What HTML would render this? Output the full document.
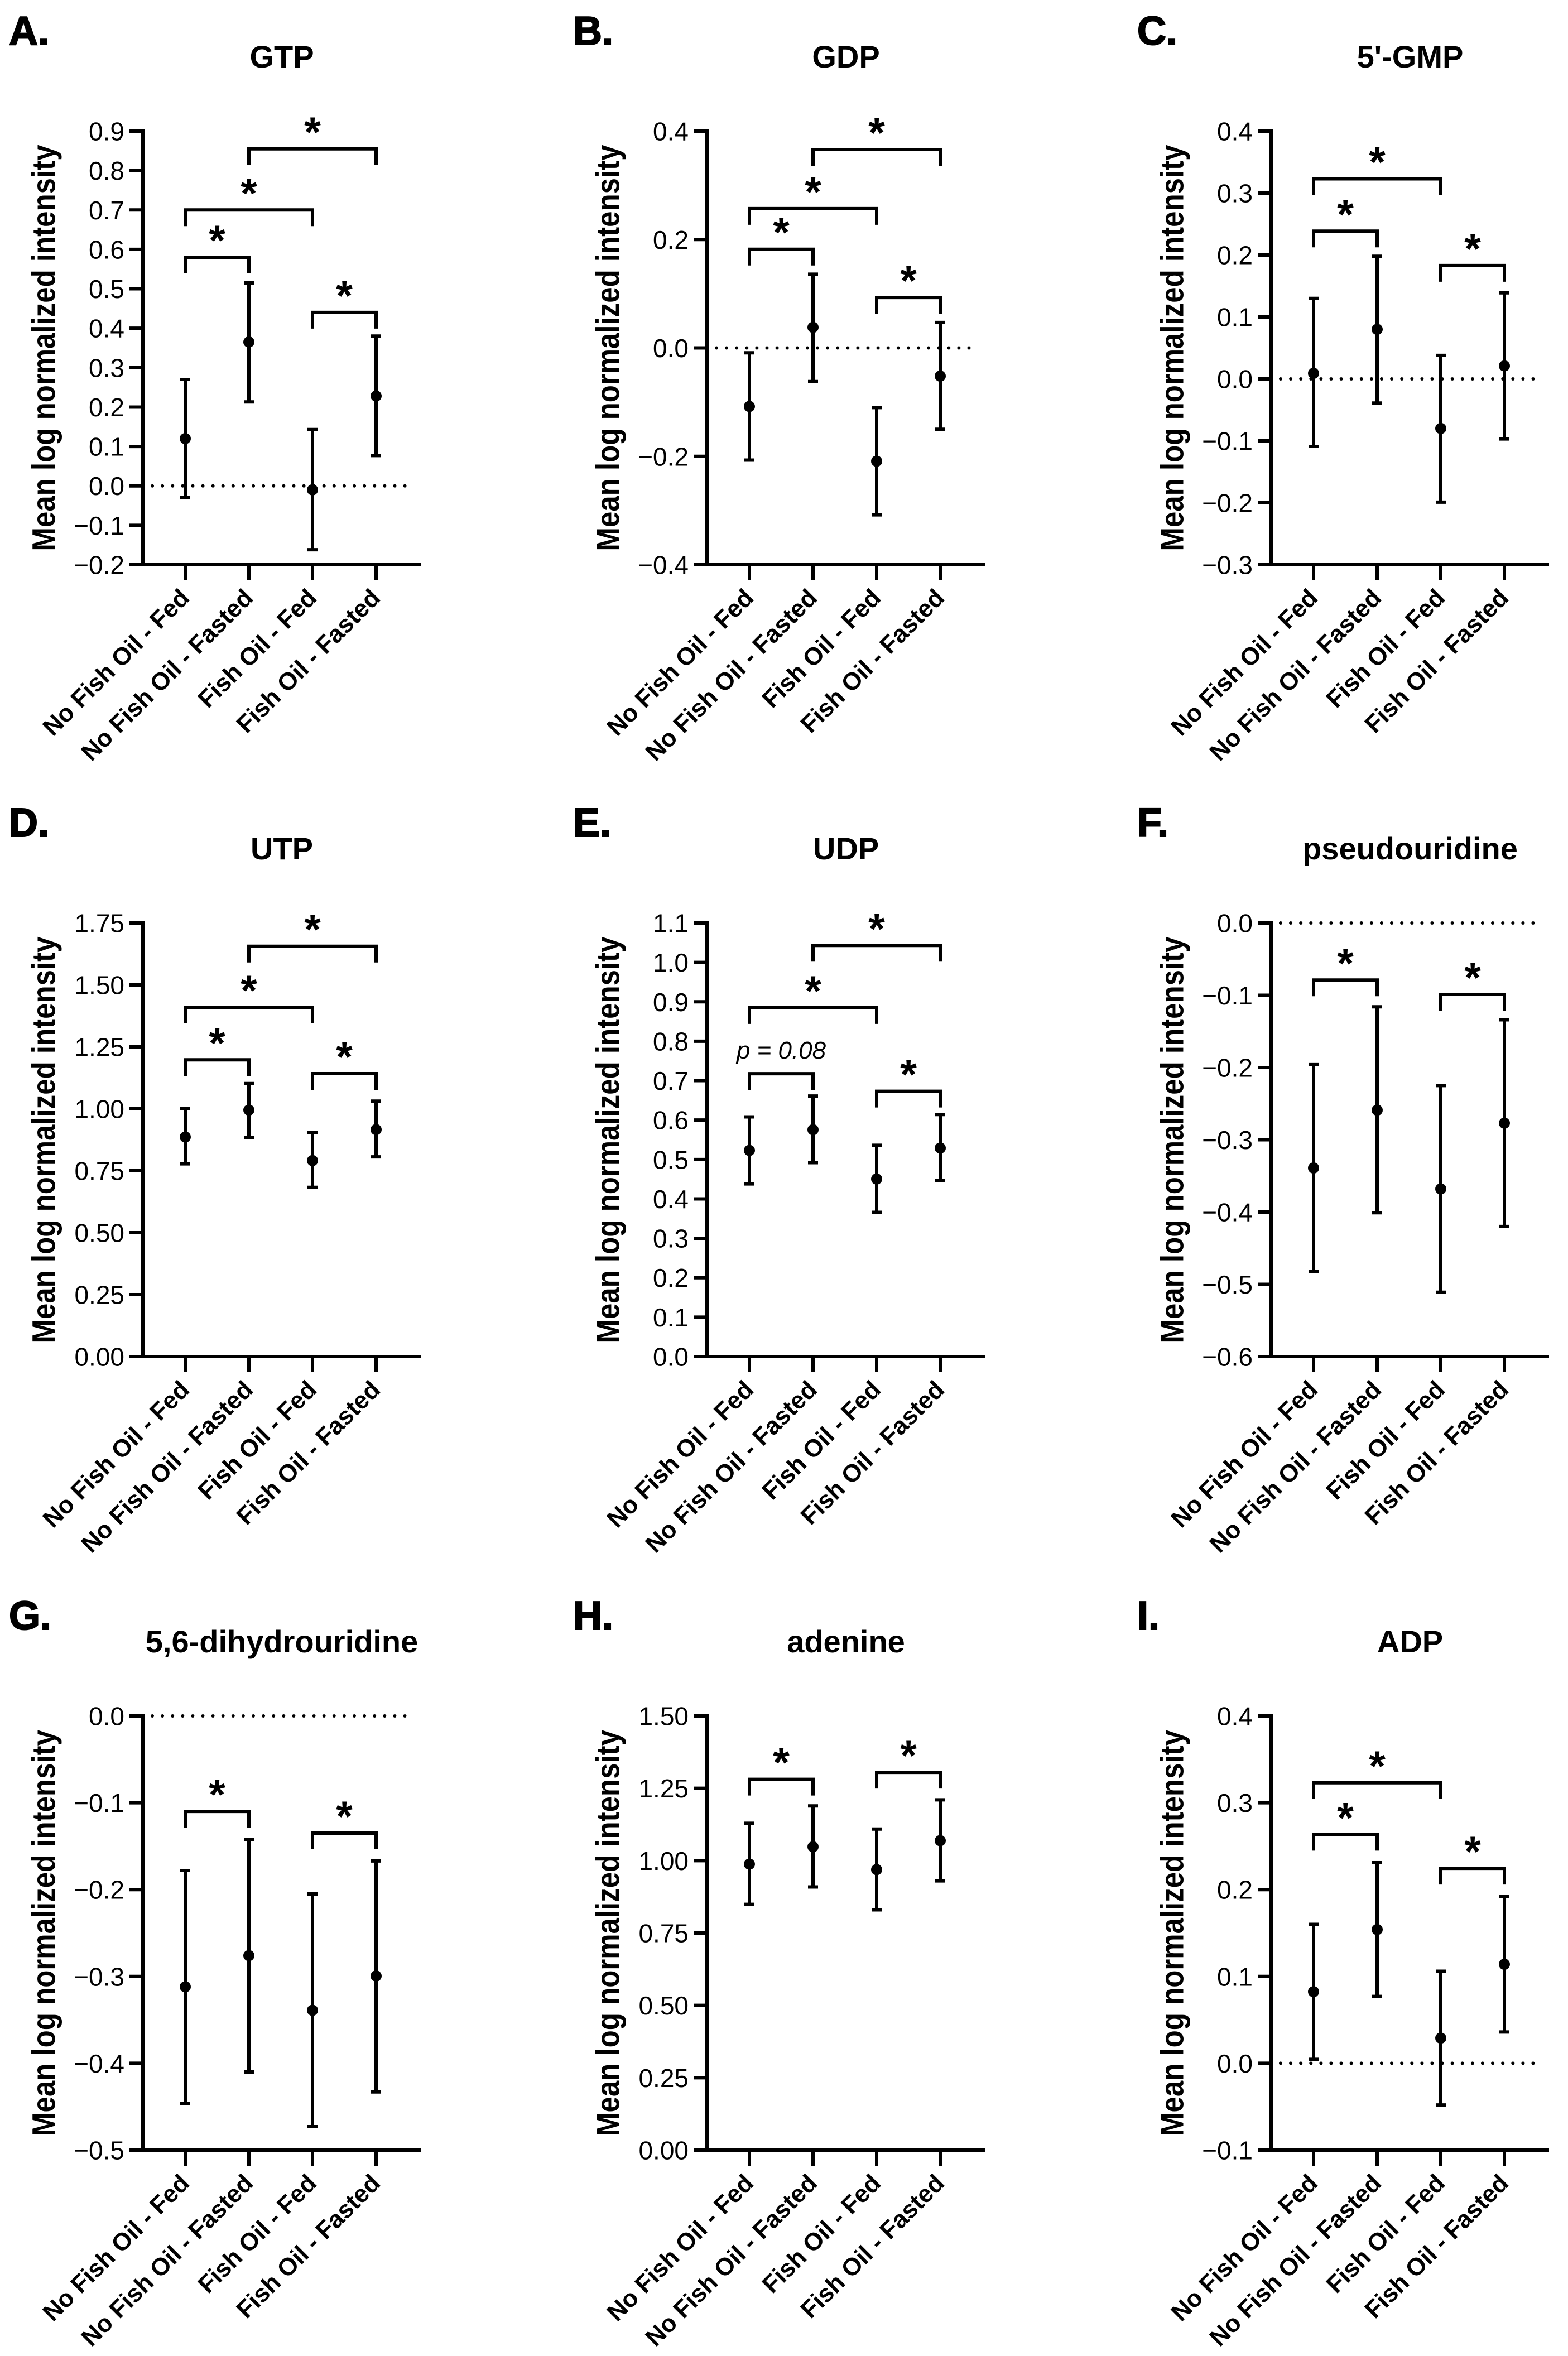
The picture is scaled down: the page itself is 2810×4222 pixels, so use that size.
<!DOCTYPE html>
<html><head><meta charset="utf-8"><style>
html,body{margin:0;padding:0;background:#fff;}
svg{display:block;font-family:"Liberation Sans",Arial,sans-serif;}
</style></head>
<body>
<svg id="fig" xmlns="http://www.w3.org/2000/svg" width="2810" height="4222" viewBox="0 0 2810 4222"></svg>
<script>
// ---- shared categories ----
const categories = ["No Fish Oil - Fed","No Fish Oil - Fasted","Fish Oil - Fed","Fish Oil - Fasted"];

// ---- A. GTP ----
const gtpTicks = [0.9,0.8,0.7,0.6,0.5,0.4,0.3,0.2,0.1,0.0,-0.1,-0.2];
const gtpMeans = [0.12,0.365,-0.01,0.228];
const gtpUpper = [0.27,0.515,0.143,0.38];
const gtpLower = [-0.03,0.213,-0.162,0.077];
const gtpBrackets = [[0,1,0.58],[0,2,0.70],[1,3,0.855],[2,3,0.44]];
const gtpBracketLabels = ["*","*","*","*"];

// ---- B. GDP ----
const gdpTicks = [0.4,0.2,0.0,-0.2,-0.4];
const gdpMeans = [-0.108,0.038,-0.209,-0.052];
const gdpUpper = [-0.009,0.136,-0.11,0.047];
const gdpLower = [-0.207,-0.062,-0.308,-0.15];
const gdpBrackets = [[0,1,0.182],[0,2,0.257],[1,3,0.366],[2,3,0.093]];
const gdpBracketLabels = ["*","*","*","*"];

// ---- C. 5'-GMP ----
const gmpTicks = [0.4,0.3,0.2,0.1,0.0,-0.1,-0.2,-0.3];
const gmpMeans = [0.009,0.08,-0.08,0.021];
const gmpUpper = [0.13,0.198,0.038,0.139];
const gmpLower = [-0.109,-0.039,-0.199,-0.097];
const gmpBrackets = [[0,1,0.2385],[0,2,0.323],[2,3,0.183]];
const gmpBracketLabels = ["*","*","*"];

// ---- D. UTP ----
const utpTicks = [1.75,1.5,1.25,1.0,0.75,0.5,0.25,0.0];
const utpMeans = [0.886,0.995,0.791,0.916];
const utpUpper = [1.0,1.102,0.905,1.031];
const utpLower = [0.778,0.883,0.683,0.806];
const utpBrackets = [[0,1,1.1975],[0,2,1.41],[1,3,1.656],[2,3,1.142]];
const utpBracketLabels = ["*","*","*","*"];

// ---- E. UDP ----
const udpTicks = [1.1,1.0,0.9,0.8,0.7,0.6,0.5,0.4,0.3,0.2,0.1,0.0];
const udpMeans = [0.523,0.5755,0.4505,0.529];
const udpUpper = [0.608,0.661,0.536,0.614];
const udpLower = [0.438,0.492,0.366,0.446];
const udpBrackets = [[0,1,0.7175],[0,2,0.885],[1,3,1.043],[2,3,0.673]];
const udpBracketLabels = ["p = 0.08","*","*","*"];

// ---- F. pseudouridine ----
const psiTicks = [0.0,-0.1,-0.2,-0.3,-0.4,-0.5,-0.6];
const psiMeans = [-0.339,-0.259,-0.368,-0.277];
const psiUpper = [-0.196,-0.116,-0.225,-0.134];
const psiLower = [-0.482,-0.401,-0.511,-0.42];
const psiBrackets = [[0,1,-0.079],[2,3,-0.0988]];
const psiBracketLabels = ["*","*"];

// ---- G. 5,6-dihydrouridine ----
const dhuTicks = [0.0,-0.1,-0.2,-0.3,-0.4,-0.5];
const dhuMeans = [-0.312,-0.276,-0.339,-0.2995];
const dhuUpper = [-0.178,-0.142,-0.205,-0.167];
const dhuLower = [-0.446,-0.41,-0.473,-0.433];
const dhuBrackets = [[0,1,-0.110],[2,3,-0.135]];
const dhuBracketLabels = ["*","*"];

// ---- H. adenine ----
const adeTicks = [1.5,1.25,1.0,0.75,0.5,0.25,0.0];
const adeMeans = [0.988,1.048,0.969,1.069];
const adeUpper = [1.129,1.189,1.109,1.21];
const adeLower = [0.849,0.909,0.83,0.93];
const adeBrackets = [[0,1,1.281],[2,3,1.305]];
const adeBracketLabels = ["*","*"];

// ---- I. ADP ----
const adpTicks = [0.4,0.3,0.2,0.1,0.0,-0.1];
const adpMeans = [0.0824,0.154,0.029,0.114];
const adpUpper = [0.16,0.231,0.106,0.192];
const adpLower = [0.0045,0.077,-0.048,0.036];
const adpBrackets = [[0,1,0.2635],[0,2,0.323],[2,3,0.2245]];
const adpBracketLabels = ["*","*","*"];

const panels = [
  {letter:"A.",title:"GTP",ticks:gtpTicks,dec:1,means:gtpMeans,up:gtpUpper,lo:gtpLower,br:gtpBrackets,bl:gtpBracketLabels,col:0,row:0,slug:"gtp"},
  {letter:"B.",title:"GDP",ticks:gdpTicks,dec:1,means:gdpMeans,up:gdpUpper,lo:gdpLower,br:gdpBrackets,bl:gdpBracketLabels,col:1,row:0,slug:"gdp"},
  {letter:"C.",title:"5'-GMP",ticks:gmpTicks,dec:1,means:gmpMeans,up:gmpUpper,lo:gmpLower,br:gmpBrackets,bl:gmpBracketLabels,col:2,row:0,slug:"gmp"},
  {letter:"D.",title:"UTP",ticks:utpTicks,dec:2,means:utpMeans,up:utpUpper,lo:utpLower,br:utpBrackets,bl:utpBracketLabels,col:0,row:1,slug:"utp"},
  {letter:"E.",title:"UDP",ticks:udpTicks,dec:1,means:udpMeans,up:udpUpper,lo:udpLower,br:udpBrackets,bl:udpBracketLabels,col:1,row:1,slug:"udp"},
  {letter:"F.",title:"pseudouridine",ticks:psiTicks,dec:1,means:psiMeans,up:psiUpper,lo:psiLower,br:psiBrackets,bl:psiBracketLabels,col:2,row:1,slug:"pseudouridine"},
  {letter:"G.",title:"5,6-dihydrouridine",ticks:dhuTicks,dec:1,means:dhuMeans,up:dhuUpper,lo:dhuLower,br:dhuBrackets,bl:dhuBracketLabels,col:0,row:2,slug:"dihydrouridine"},
  {letter:"H.",title:"adenine",ticks:adeTicks,dec:2,means:adeMeans,up:adeUpper,lo:adeLower,br:adeBrackets,bl:adeBracketLabels,col:1,row:2,slug:"adenine"},
  {letter:"I.",title:"ADP",ticks:adpTicks,dec:1,means:adpMeans,up:adpUpper,lo:adpLower,br:adpBrackets,bl:adpBracketLabels,col:2,row:2,slug:"adp"}
];

const NS = "http://www.w3.org/2000/svg";
const svg = document.getElementById("fig");
const AXIS_X = [256,1267,2278];
const TOP = [235,1654,3075];
const BOT = [1012,2431,3853];
const LW = 6;

function mk(tag, attrs, parent){
  const e = document.createElementNS(NS, tag);
  for (const k in attrs) e.setAttribute(k, attrs[k]);
  (parent||svg).appendChild(e);
  return e;
}
function fmt(v, dec){
  const s = Math.abs(v).toFixed(dec);
  return (v < -1e-9 ? "\u2212" : "") + s;
}

panels.forEach(p => {
  const ax = AXIS_X[p.col], top = TOP[p.row], bot = BOT[p.row];
  const ymax = Math.max(...p.ticks), ymin = Math.min(...p.ticks);
  const yScale = v => bot - (v - ymin) / (ymax - ymin) * (bot - top);
  const xScale = i => ax + 76 + i * 114;
  const g = mk("g", {});
  
  

  const L = mk("text", {x: ax - 240, y: top - 155, "font-size": 72, "font-weight": "bold", "stroke": "#000", "stroke-width": 2}, g);
  L.textContent = p.letter;
  
  

  const T = mk("text", {x: ax + 249, y: top - 114, "font-size": 56, "font-weight": "bold", "text-anchor": "middle"}, g);
  T.textContent = p.title;
  
  

  const cy = (top + bot) / 2, lx = ax - 177;
  const YL = mk("text", {x: lx, y: cy, "font-size": 58, "font-weight": "bold", "text-anchor": "middle", "dominant-baseline": "central", textLength: 728, lengthAdjust: "spacingAndGlyphs", transform: `rotate(-90 ${lx} ${cy})`}, g);
  YL.textContent = "Mean log normalized intensity";
  
  

  if (0 >= ymin && 0 <= ymax) {
    const z = yScale(0);
    const dl = mk("line", {x1: ax + 17, y1: z, x2: ax + 486, y2: z, stroke: "#000", "stroke-width": 6, "stroke-linecap": "round", "stroke-dasharray": "0 18.1"}, g);
    
    
  }

  const ya = mk("line", {x1: ax, y1: top - LW/2, x2: ax, y2: bot + LW/2, stroke: "#000", "stroke-width": LW}, g);
  
  
  const xa = mk("line", {x1: ax - LW/2, y1: bot, x2: ax + 498, y2: bot, stroke: "#000", "stroke-width": LW}, g);
  
  

  p.ticks.forEach(t => {
    const y = yScale(t);
    const tk = mk("line", {x1: ax - 24, y1: y, x2: ax, y2: y, stroke: "#000", "stroke-width": LW}, g);
    
    
    const tl = mk("text", {x: ax - 33, y: y + 16.5, "font-size": 46, "text-anchor": "end"}, g);
    tl.textContent = fmt(t, p.dec);
    
    
  });

  categories.forEach((c, i) => {
    const x = xScale(i);
    const tk = mk("line", {x1: x, y1: bot, x2: x, y2: bot + 28, stroke: "#000", "stroke-width": LW}, g);
    
    
    const ex = x + 10, ey = bot + 62;
    const tl = mk("text", {x: ex, y: ey, "font-size": 44, "font-weight": "bold", "text-anchor": "end", transform: `rotate(-45 ${ex} ${ey})`}, g);
    tl.textContent = c;
    
    
  });

  p.means.forEach((m, i) => {
    const x = xScale(i);
    const yu = yScale(p.up[i]), yl = yScale(p.lo[i]);
    const eb = mk("path", {d: `M${x} ${yu}V${yl}M${x-9} ${yu}H${x+9}M${x-9} ${yl}H${x+9}`, stroke: "#000", "stroke-width": 6, fill: "none"}, g);
    
    
    const pt = mk("circle", {cx: x, cy: yScale(m), r: 10, fill: "#000"}, g);
    
    
  });

  p.br.forEach((b, k) => {
    const x1 = xScale(b[0]), x2 = xScale(b[1]), y = yScale(b[2]);
    const br = mk("path", {d: `M${x1} ${y+29}V${y}H${x2}V${y+29}`, stroke: "#000", "stroke-width": 6, fill: "none"}, g);
    
    
    const lab = p.bl[k];
    let st;
    if (lab === "*") {
      st = mk("text", {x: (x1 + x2) / 2, y: y - 4, "font-size": 76, "font-weight": "bold", "text-anchor": "middle"}, g);
    } else {
      st = mk("text", {x: (x1 + x2) / 2, y: y - 27, "font-size": 44, "font-style": "italic", "text-anchor": "middle"}, g);
    }
    st.textContent = lab;
    
    
  });
});
</script>
</body></html>
